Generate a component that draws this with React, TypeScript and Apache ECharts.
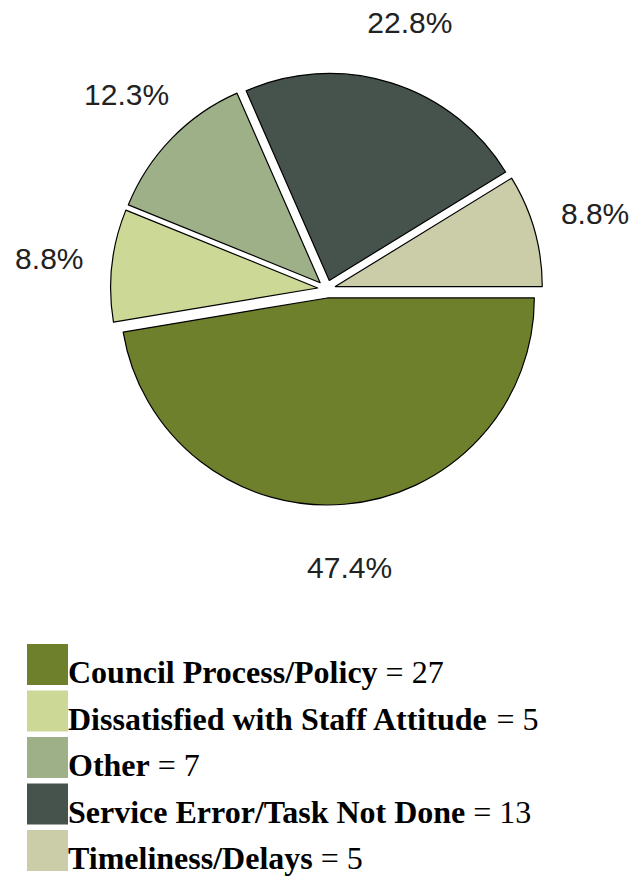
import React, { useEffect, useRef } from 'react';
import * as echarts from 'echarts';

// ---- data ----
const categories = [
  'Council Process/Policy',
  'Dissatisfied with Staff Attitude',
  'Other',
  'Service Error/Task Not Done',
  'Timeliness/Delays',
];
const counts = [27, 5, 7, 13, 5];
const colors = ['#6f802c', '#ccd895', '#9db088', '#46524c', '#cbcca8'];

const total = counts.reduce((a, b) => a + b, 0);

export default function App() {
  const ref = useRef<HTMLDivElement>(null);

  useEffect(() => {
    if (!ref.current) return;
    const chart = echarts.init(ref.current, undefined, { renderer: 'svg' });

    const center = [326.6, 289];

    const sliceData = categories.map((name, i) => ({
      name,
      value: counts[i],
      selected: true,
      itemStyle: { color: colors[i] },
    }));

    const labelData = categories.map((name, i) => ({
      name,
      value: counts[i],
    }));

    const legendTop = 644;
    const legendStep = 46.5;
    const legendGraphics: any[] = [];
    categories.forEach((name, i) => {
      const top = legendTop + i * legendStep;
      legendGraphics.push({
        type: 'rect',
        left: 27,
        top,
        shape: { width: 41, height: 41 },
        style: { fill: colors[i] },
        silent: true,
      });
      legendGraphics.push({
        type: 'text',
        x: 68,
        y: top + 28,
        silent: true,
        style: {
          text: `{b|${name}}{n| = ${counts[i]}}`,
          verticalAlign: 'middle',
          align: 'left',
          fill: '#000',
          rich: {
            b: {
              fontFamily: '"Liberation Serif", "Times New Roman", serif',
              fontSize: 32,
              fontWeight: 'bold',
              fill: '#000',
            },
            n: {
              fontFamily: '"Liberation Serif", "Times New Roman", serif',
              fontSize: 32,
              fontWeight: 'normal',
              fill: '#000',
            },
          },
        },
      });
    });

    chart.setOption({
      animation: false,
      backgroundColor: '#ffffff',
      series: [
        {
          type: 'pie',
          center,
          radius: 207,
          startAngle: 0,
          clockwise: true,
          selectedMode: 'multiple',
          selectedOffset: 9,
          silent: true,
          label: { show: false },
          labelLine: { show: false },
          itemStyle: { borderColor: '#000', borderWidth: 1.2 },
          emphasis: { disabled: true, scale: false },
          data: sliceData,
        },
        {
          type: 'pie',
          center,
          radius: [266, 286],
          startAngle: 0,
          clockwise: true,
          silent: true,
          itemStyle: { color: 'rgba(0,0,0,0)', borderWidth: 0 },
          emphasis: { disabled: true, scale: false },
          labelLine: { show: false },
          label: {
            show: true,
            position: 'inside',
            rotate: 0,
            fontFamily: '"Liberation Sans", Arial, sans-serif',
            fontSize: 30,
            color: '#222',
            formatter: (p: any) => ((p.value / total) * 100).toFixed(1) + '%',
          },
          data: labelData,
        },
      ],
      graphic: legendGraphics,
    });

    return () => chart.dispose();
  }, []);

  return (
    <div
      ref={ref}
      style={{ position: 'fixed', left: 0, top: 0, width: 632, height: 879, background: '#fff' }}
    />
  );
}
